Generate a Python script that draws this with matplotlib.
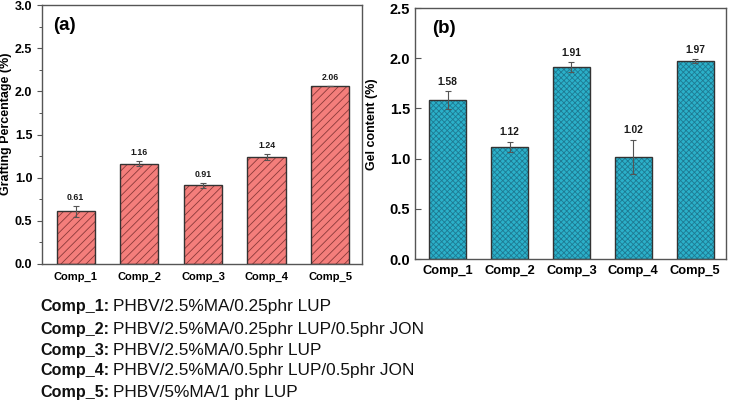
import matplotlib
matplotlib.use("Agg")
import matplotlib.pyplot as plt
from matplotlib.ticker import MultipleLocator

plt.rcParams["font.family"] = ["Liberation Sans", "DejaVu Sans"]
plt.rcParams["hatch.linewidth"] = 0.6

comps = ["Comp_1", "Comp_2", "Comp_3", "Comp_4", "Comp_5"]
graft = [0.61, 1.16, 0.91, 1.24, 2.06]
graft_err = [0.06, 0.03, 0.03, 0.03, 0.0]
gel = [1.58, 1.12, 1.91, 1.02, 1.97]
gel_err = [0.09, 0.05, 0.05, 0.17, 0.02]
legend_names = ["Comp_1:", "Comp_2:", "Comp_3:", "Comp_4:", "Comp_5:"]
legend_desc = ["PHBV/2.5%MA/0.25phr LUP",
               "PHBV/2.5%MA/0.25phr LUP/0.5phr JON",
               "PHBV/2.5%MA/0.5phr LUP",
               "PHBV/2.5%MA/0.5phr LUP/0.5phr JON",
               "PHBV/5%MA/1 phr LUP"]

SPINE = "#555555"
EDGE = "#333333"

fig = plt.figure(figsize=(7.29, 4.11), dpi=100)
ax_a = fig.add_axes([0.0576, 0.3577, 0.439, 0.630])
ax_b = fig.add_axes([0.5693, 0.3698, 0.4266, 0.6107])

x = list(range(1, 6))


def draw_bars(ax, vals, errs, face, hatch, hatch_col, fs_val):
    # face, hatch overlay and outline drawn separately so the hatch can have its own colour
    ax.bar(x, vals, width=0.6, color=face, edgecolor="none", zorder=2)
    ax.bar(x, vals, width=0.6, color="none", edgecolor=hatch_col,
           hatch=hatch, linewidth=0, zorder=3)
    ax.bar(x, vals, width=0.6, color="none", edgecolor=EDGE,
           linewidth=1.0, zorder=4)
    ax.errorbar(x, vals, yerr=errs, fmt="none", ecolor="#555555",
                elinewidth=0.8, capsize=2, capthick=0.8, zorder=5)
    for xi, v, e in zip(x, vals, errs):
        ax.annotate(f"{v:.2f}", (xi, v + e), xytext=(0, 3),
                    textcoords="offset points", ha="center", va="bottom",
                    fontsize=fs_val, fontweight="bold", color="#1A1A1A")
    ax.set_xlim(0.47, 5.5)
    ax.set_xticks(x)
    for s in ax.spines.values():
        s.set_color(SPINE)
        s.set_linewidth(1.0)


# panel (a)
draw_bars(ax_a, graft, graft_err, "#F47E7B", "////", "#8A3A3A", 6.3)
ax_a.set_ylim(0, 3.0)
ax_a.yaxis.set_major_locator(MultipleLocator(0.5))
ax_a.yaxis.set_minor_locator(MultipleLocator(0.25))
ax_a.set_xticklabels(comps, fontsize=8, fontweight="bold")
ax_a.tick_params(axis="y", direction="out", length=3.5, width=0.8,
                 color=SPINE, labelsize=9)
ax_a.tick_params(axis="y", which="minor", direction="out", length=2,
                 width=0.7, color=SPINE)
ax_a.tick_params(axis="x", length=0, pad=6)
for lab in ax_a.get_yticklabels():
    lab.set_fontweight("bold")
ax_a.set_ylabel("Grafting Percentage (%)", fontsize=9, fontweight="bold")
ax_a.yaxis.set_label_coords(-0.094, 0.54)
ax_a.text(0.035, 0.92, "(a)", transform=ax_a.transAxes, fontsize=13.5,
          fontweight="bold", va="center", ha="left")

# panel (b)
draw_bars(ax_b, gel, gel_err, "#2BB0C9", "xxxxxx", "#1E7A92", 7.4)
ax_b.set_ylim(0, 2.5)
ax_b.yaxis.set_major_locator(MultipleLocator(0.5))
ax_b.set_xticklabels(comps, fontsize=9.3, fontweight="bold")
ax_b.tick_params(axis="y", direction="in", length=4, width=0.8,
                 color=SPINE, labelsize=10.5)
ax_b.tick_params(axis="x", length=0, pad=4)
for lab in ax_b.get_yticklabels():
    lab.set_fontweight("bold")
ax_b.set_ylabel("Gel content (%)", fontsize=9, fontweight="bold")
ax_b.yaxis.set_label_coords(-0.119, 0.538)
ax_b.text(0.055, 0.92, "(b)", transform=ax_b.transAxes, fontsize=13.5,
          fontweight="bold", va="center", ha="left")

# composition key below the panels
fig.canvas.draw()
renderer = fig.canvas.get_renderer()
y_px = [307, 329, 350, 370, 392]
for name, desc, yp in zip(legend_names, legend_desc, y_px):
    yf = 1 - yp / 411
    t = fig.text(40 / 729, yf, name, fontsize=11.6, fontweight="bold",
                 va="center", ha="left", color="#111111")
    bb = t.get_window_extent(renderer=renderer)
    fig.text((bb.x1 + 4) / 729, yf, desc, fontsize=12.4, va="center",
             ha="left", color="#111111")

fig.savefig("out.png", dpi=100)
